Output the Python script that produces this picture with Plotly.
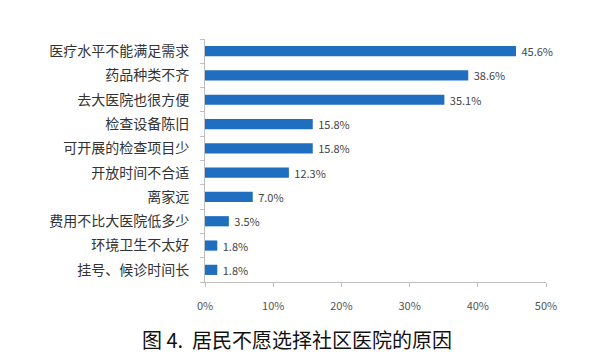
import plotly.graph_objects as go

categories = ["医疗水平不能满足需求", "药品种类不齐", "去大医院也很方便", "检查设备陈旧",
              "可开展的检查项目少", "开放时间不合适", "离家远", "费用不比大医院低多少",
              "环境卫生不太好", "挂号、候诊时间长"]
values = [45.6, 38.6, 35.1, 15.8, 15.8, 12.3, 7.0, 3.5, 1.8, 1.8]
tick_vals = [0, 10, 20, 30, 40, 50]
tick_text = ["0%", "10%", "20%", "30%", "40%", "50%"]
title_text = "图 4.&nbsp;&nbsp;居民不愿选择社区医院的原因"

font = "Noto Sans CJK SC"

fig = go.Figure(go.Bar(
    x=values, y=categories, orientation="h",
    marker=dict(color="#1f6ebf", line=dict(width=0)),
    text=[f"&nbsp;{v:.1f}%" for v in values], textposition="outside",
    constraintext="none",
    textfont=dict(family=font, size=11, color="#444444"),
    cliponaxis=False,
))

fig.update_layout(
    width=592, height=349,
    margin=dict(l=197, r=54, t=31, b=75),
    paper_bgcolor="white", plot_bgcolor="white",
    bargap=0.58,
    showlegend=False,
    font=dict(family=font),
    annotations=[dict(text=title_text, xref="paper", yref="paper", x=0.27, y=-0.235,
                      xanchor="center", yanchor="middle", showarrow=False,
                      font=dict(family=font, size=20, color="#111111"))],
)
fig.update_xaxes(range=[0, 50], tickvals=tick_vals, ticktext=tick_text,
                 showgrid=False, zeroline=False, showline=True, linecolor="#bfbfbf",
                 linewidth=1, ticks="outside", ticklen=4, tickcolor="#bfbfbf",
                 ticklabelstandoff=10,
                 tickfont=dict(family=font, size=11, color="#555555"))
fig.update_yaxes(categoryorder="array", categoryarray=categories[::-1],
                 showgrid=False, showline=True, linecolor="#bfbfbf", linewidth=1,
                 ticks="outside", ticklen=4, tickcolor="#bfbfbf", tickson="boundaries",
                 ticklabelstandoff=12,
                 tickfont=dict(family=font, size=14, color="#333333"))

fig.write_html("out.html")
